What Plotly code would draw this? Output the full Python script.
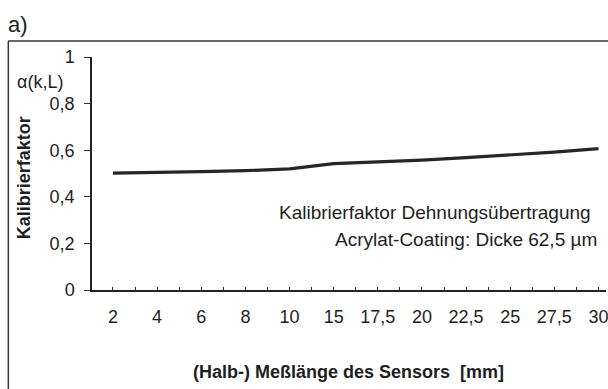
import plotly.graph_objects as go

# Messlänge categories (mm) and calibration factor values
laengen = ["2", "4", "6", "8", "10", "15", "17,5", "20", "22,5", "25", "27,5", "30"]
kalibrierfaktor = [0.502, 0.504, 0.508, 0.512, 0.520, 0.542, 0.549, 0.557, 0.568, 0.579, 0.592, 0.607]
y_ticks = [0, 0.2, 0.4, 0.6, 0.8, 1]
y_ticktext = ["0", "0,2", "0,4", "0,6", "0,8", "1"]

W, H = 608, 389
ML, MR, MT, MB = 92, 0, 57, 99
PW, PH = W - ML - MR, H - MT - MB

FONT = "Liberation Sans, Arial, sans-serif"
TXT = "#1e1e1e"


def px(x):
    return (x - ML) / PW


def py(y):
    return (H - MB - y) / PH


idx = list(range(len(laengen)))

fig = go.Figure()
fig.add_trace(go.Scatter(
    x=idx, y=kalibrierfaktor, mode="lines",
    line=dict(color="#262626", width=3.2),
    showlegend=False, hoverinfo="skip",
))

fig.update_layout(
    width=W, height=H,
    margin=dict(l=ML, r=MR, t=MT, b=MB, pad=0),
    paper_bgcolor="white", plot_bgcolor="white",
    font=dict(family=FONT, size=18, color=TXT),
    xaxis=dict(
        range=[-0.475, 11.17],
        tickmode="array", tickvals=idx, ticktext=laengen,
        ticks="inside", ticklen=3, tickcolor="#333",
        minor=dict(tickmode="array", tickvals=[i + 0.5 for i in idx],
                   ticks="inside", ticklen=3, tickcolor="#333"),
        showline=True, linecolor="#222", linewidth=1.5,
        showgrid=False, zeroline=False,
        tickfont=dict(size=18, color=TXT),
        ticklabelstandoff=10,
        ticklabeloverflow="allow",
    ),
    yaxis=dict(
        range=[0, 1],
        tickmode="array", tickvals=y_ticks, ticktext=y_ticktext,
        ticks="outside", ticklen=6, tickcolor="#333",
        showline=True, linecolor="#222", linewidth=1.5,
        showgrid=False, zeroline=False,
        tickfont=dict(size=18, color=TXT),
        ticklabelstandoff=6,
    ),
)

# outer frame (top and left edges)
fig.add_shape(type="line", xref="paper", yref="paper",
              x0=px(8), x1=px(W + 10), y0=py(41), y1=py(41),
              line=dict(color="#333", width=1.5))
fig.add_shape(type="line", xref="paper", yref="paper",
              x0=px(8), x1=px(8), y0=py(41), y1=py(H + 10),
              line=dict(color="#333", width=1.5))

anns = [
    dict(text="a)", x=px(6), y=py(24), xanchor="left", yanchor="middle",
         font=dict(size=22, color=TXT)),
    dict(text="α(k,L)", x=px(15), y=py(82), xanchor="left", yanchor="middle",
         font=dict(size=18, color=TXT)),
    dict(text="<b>Kalibrierfaktor</b>", x=px(24), y=py(178), xanchor="center",
         yanchor="middle", textangle=-90, font=dict(size=18, color=TXT)),
    dict(text="<b>(Halb-) Meßlänge des Sensors  [mm]</b>", x=px(349), y=py(372),
         xanchor="center", yanchor="middle", font=dict(size=18, color=TXT)),
    dict(text="Kalibrierfaktor Dehnungsübertragung", x=px(595), y=py(212),
         xanchor="right", yanchor="middle", font=dict(size=19, color=TXT)),
    dict(text="Acrylat-Coating: Dicke 62,5 µm", x=px(601), y=py(239),
         xanchor="right", yanchor="middle", font=dict(size=19, color=TXT)),
]
for a in anns:
    fig.add_annotation(xref="paper", yref="paper", showarrow=False, **a)

fig.write_html("out.html")
